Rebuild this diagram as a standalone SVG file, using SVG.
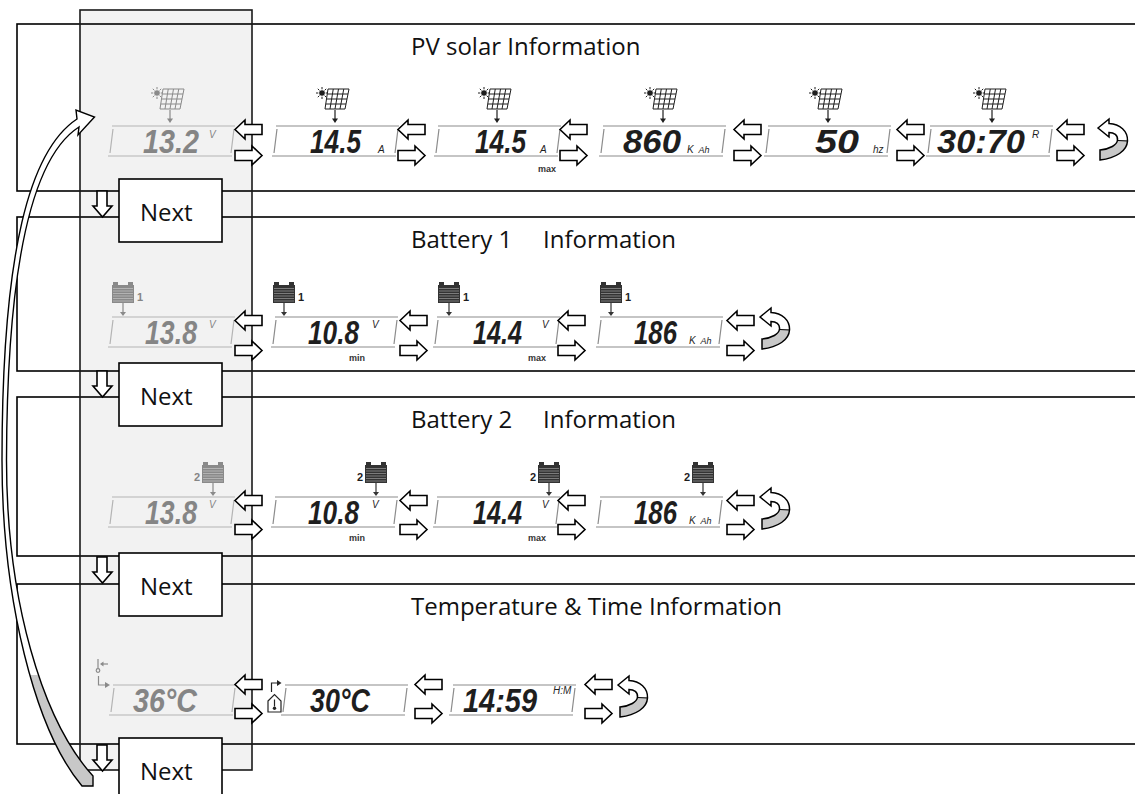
<svg xmlns="http://www.w3.org/2000/svg" width="1135" height="794" viewBox="0 0 1135 794">
<defs>
<style>
.row{fill:none;stroke:#000;stroke-width:1.6}
.colf{fill:#f2f2f2}
.colb{fill:none;stroke:#1a1a1a;stroke-width:1.6}
.title{font-family:"Open Sans","Liberation Sans",sans-serif;font-size:24px;fill:#111}
.next rect{fill:#fff;stroke:#000;stroke-width:1.6}
.next text{font-family:"Open Sans","Liberation Sans",sans-serif;font-size:24px;fill:#111}
.lcd{font-family:"Liberation Sans",Arial,sans-serif;font-style:italic;font-weight:bold;font-size:33px}
.u{font-family:"Liberation Sans",Arial,sans-serif;font-size:10px;font-style:italic}
.sub{font-family:"Liberation Sans",Arial,sans-serif;font-size:9px;font-weight:bold;text-anchor:middle;fill:#333}
.lab{font-family:"Liberation Sans",Arial,sans-serif;font-size:11px;font-weight:bold}
.gy{fill:#858585}
.dk{fill:#1e1e1e}
.harr{fill:#fff;stroke:#000;stroke-width:1.6;stroke-linejoin:miter}
</style>
<linearGradient id="curlg" x1="0" y1="0" x2="0" y2="1"><stop offset="0.52" stop-color="#fff"/><stop offset="0.52" stop-color="#c8c8c8"/></linearGradient>
<linearGradient id="bigg" gradientUnits="userSpaceOnUse" x1="0" y1="0" x2="0" y2="794"><stop offset="0.85" stop-color="#fff"/><stop offset="0.85" stop-color="#c8c8c8"/></linearGradient>
<g id="lcdf" fill="none" stroke="currentColor" stroke-width="1.2"><path d="M0,0H123M-4,30H120M1,3L-2,27M122,3L119,27"/></g>
<g id="sol" fill="none" stroke="currentColor" stroke-width="1">
<circle cx="-13" cy="5" r="2.8" fill="currentColor" stroke="none"/>
<path d="M-13,-1V1.3M-13,8.7V11M-19,5H-16.7M-9.3,5H-7.8M-15.6,2.4L-17.2,0.8M-10.4,7.6L-8.8,9.2M-15.6,7.6L-17.2,9.2M-10.4,2.4L-8.8,0.8"/>
<path d="M-7,1H14L10,21H-10Z M-1.75,1L-5,21 M3.5,1L0,21 M8.75,1L5,21 M-7.75,6H13 M-8.5,11H12 M-9.25,16H11"/>
<path d="M0,22V31" stroke-width="1.2"/>
<path d="M-3,30.5H3L0,35Z" fill="currentColor" stroke="none"/>
</g>
<g id="bat">
<rect x="1" y="0" width="5" height="3.5" fill="currentColor"/>
<rect x="16" y="0" width="5" height="3.5" fill="currentColor"/>
<rect x="0" y="3" width="22" height="18" fill="currentColor"/>
<path d="M1,6.5H21M1,9H21M1,11.5H21M1,14H21M1,16.5H21M1,19H21" stroke="#fff" stroke-opacity="0.45" stroke-width="0.8"/>
<path d="M11,21V31" stroke="currentColor" stroke-width="1.2"/>
<path d="M8,30H14L11,34Z" fill="currentColor"/>
</g>
<path id="al" class="harr" d="M0,9.5L10,0V4.5H27V14.5H10V19Z"/>
<path id="ar" class="harr" d="M27,9.5L17,0V4.5H0V14.5H17V19Z"/>
<path id="dn" class="harr" d="M4,0H14V15H19L9.5,26L0,15H4Z"/>
<g id="curl">
<path d="M0,9L11,0V4.5C22,5 30,12 29.5,22C29,32 18,39 2,41V31C12,30 19,26 19.5,21C20,16 16,13.5 11,13.5V18Z" fill="url(#curlg)" stroke="#000" stroke-width="1.5" stroke-linejoin="miter"/>
<path d="M19.5,21.5L29.5,22" stroke="#000" stroke-width="1"/>
</g>
</defs>
<rect width="1135" height="794" fill="#fff"/>
<rect class="colf" x="80" y="10" width="172" height="760"/>
<g id="rows">
<rect class="row" x="17" y="24" width="1130" height="167"/>
<rect class="row" x="17" y="217" width="1130" height="154"/>
<rect class="row" x="17" y="397" width="1130" height="159"/>
<rect class="row" x="17" y="584" width="1130" height="160"/>
</g>
<rect id="column" class="colb" x="80" y="10" width="172" height="760"/>
<g id="titles">
<text class="title" x="411" y="55">PV solar Information</text>
<text class="title" x="411" y="248">Battery 1 <tspan x="543">Information</tspan></text>
<text class="title" x="411" y="428">Battery 2 <tspan x="543">Information</tspan></text>
<text class="title" x="411" y="615">Temperature &amp; Time Information</text>
</g>
<g id="pv-row">
<g id="pv1">
<use href="#lcdf" x="112" y="126" color="#b4b4b4"/>
<use href="#sol" x="170" y="88" color="#8a8a8a"/>
<text class="lcd gy" x="143" y="153" textLength="56" lengthAdjust="spacingAndGlyphs">13.2</text>
<text class="u gy" x="209" y="138">V</text>
</g>
<g id="pv2">
<use href="#lcdf" x="276" y="126" color="#8c8c8c"/>
<use href="#sol" x="335" y="88" color="#1e1e1e"/>
<text class="lcd dk" x="310" y="153" textLength="51" lengthAdjust="spacingAndGlyphs">14.5</text>
<text class="u dk" x="378" y="153" font-size="9">A</text>
</g>
<g id="pv3">
<use href="#lcdf" x="438" y="126" color="#8c8c8c"/>
<use href="#sol" x="497" y="88" color="#1e1e1e"/>
<text class="lcd dk" x="475" y="153" textLength="51" lengthAdjust="spacingAndGlyphs">14.5</text>
<text class="u dk" x="540" y="153" font-size="9">A</text>
<text class="sub" x="547" y="172">max</text>
</g>
<g id="pv4">
<use href="#lcdf" x="603" y="126" color="#8c8c8c"/>
<use href="#sol" x="663" y="88" color="#1e1e1e"/>
<text class="lcd dk" x="623" y="153" textLength="58" lengthAdjust="spacingAndGlyphs">860</text>
<text class="u dk" x="687" y="153" font-size="11">K <tspan font-size="9" dx="2">Ah</tspan></text>
</g>
<g id="pv5">
<use href="#lcdf" x="768" y="126" color="#8c8c8c"/>
<use href="#sol" x="828" y="88" color="#1e1e1e"/>
<text class="lcd dk" x="815" y="153" textLength="44" lengthAdjust="spacingAndGlyphs">50</text>
<text class="u dk" x="873" y="153">hz</text>
</g>
<g id="pv6">
<use href="#lcdf" x="930" y="126" color="#8c8c8c"/>
<use href="#sol" x="992" y="88" color="#1e1e1e"/>
<text class="lcd dk" x="937" y="153" textLength="88" lengthAdjust="spacingAndGlyphs">30:70</text>
<text class="u dk" x="1032" y="138">R</text>
</g>
</g>
<g id="bat1-row">
<g id="b1d1">
<use href="#lcdf" x="112" y="317" color="#b4b4b4"/>
<use href="#bat" x="112" y="282" color="#8a8a8a"/>
<text class="lab gy" x="137" y="301">1</text>
<text class="lcd gy" x="145" y="344" textLength="52" lengthAdjust="spacingAndGlyphs">13.8</text>
<text class="u gy" x="209" y="328">V</text>
</g>
<g id="b1d2">
<use href="#lcdf" x="275" y="317" color="#8c8c8c"/>
<use href="#bat" x="273" y="282" color="#333"/>
<text class="lab dk" x="298" y="301">1</text>
<text class="lcd dk" x="308" y="344" textLength="51" lengthAdjust="spacingAndGlyphs">10.8</text>
<text class="u dk" x="372" y="328">V</text>
<text class="sub" x="357" y="361">min</text>
</g>
<g id="b1d3">
<use href="#lcdf" x="437" y="317" color="#8c8c8c"/>
<use href="#bat" x="438" y="282" color="#333"/>
<text class="lab dk" x="463" y="301">1</text>
<text class="lcd dk" x="473" y="344" textLength="49" lengthAdjust="spacingAndGlyphs">14.4</text>
<text class="u dk" x="542" y="328">V</text>
<text class="sub" x="537" y="361">max</text>
</g>
<g id="b1d4">
<use href="#lcdf" x="600" y="317" color="#8c8c8c"/>
<use href="#bat" x="600" y="282" color="#333"/>
<text class="lab dk" x="625" y="301">1</text>
<text class="lcd dk" x="634" y="344" textLength="43" lengthAdjust="spacingAndGlyphs">186</text>
<text class="u dk" x="689" y="344" font-size="11">K <tspan font-size="9" dx="2">Ah</tspan></text>
</g>
</g>
<g id="bat2-row">
<g id="b2d1">
<use href="#lcdf" x="112" y="497" color="#b4b4b4"/>
<use href="#bat" x="202" y="462" color="#8a8a8a"/>
<text class="lab gy" x="194" y="481">2</text>
<text class="lcd gy" x="145" y="524" textLength="52" lengthAdjust="spacingAndGlyphs">13.8</text>
<text class="u gy" x="209" y="508">V</text>
</g>
<g id="b2d2">
<use href="#lcdf" x="275" y="497" color="#8c8c8c"/>
<use href="#bat" x="365" y="462" color="#333"/>
<text class="lab dk" x="357" y="481">2</text>
<text class="lcd dk" x="308" y="524" textLength="51" lengthAdjust="spacingAndGlyphs">10.8</text>
<text class="u dk" x="372" y="508">V</text>
<text class="sub" x="357" y="541">min</text>
</g>
<g id="b2d3">
<use href="#lcdf" x="437" y="497" color="#8c8c8c"/>
<use href="#bat" x="538" y="462" color="#333"/>
<text class="lab dk" x="530" y="481">2</text>
<text class="lcd dk" x="473" y="524" textLength="49" lengthAdjust="spacingAndGlyphs">14.4</text>
<text class="u dk" x="542" y="508">V</text>
<text class="sub" x="537" y="541">max</text>
</g>
<g id="b2d4">
<use href="#lcdf" x="600" y="497" color="#8c8c8c"/>
<use href="#bat" x="692" y="462" color="#333"/>
<text class="lab dk" x="684" y="481">2</text>
<text class="lcd dk" x="634" y="524" textLength="43" lengthAdjust="spacingAndGlyphs">186</text>
<text class="u dk" x="689" y="524" font-size="11">K <tspan font-size="9" dx="2">Ah</tspan></text>
</g>
</g>
<g id="temp-row">
<g id="t1">
<use href="#lcdf" x="113" y="685" color="#b4b4b4"/>
<g fill="none" stroke="#8a8a8a" stroke-width="1.2">
<path d="M98,659V668.5"/>
<circle cx="98" cy="670.5" r="1.8"/>
<path d="M108,664H102.5"/>
<path d="M98.5,676V685H106"/>
</g>
<path d="M103.5,661.5L100,664L103.5,666.5Z" fill="#8a8a8a"/>
<path d="M105,682L110,685L105,688Z" fill="#8a8a8a"/>
<text class="lcd gy" x="133" y="712" textLength="64" lengthAdjust="spacingAndGlyphs">36°C</text>
</g>
<g id="t2">
<use href="#lcdf" x="285" y="685" color="#8c8c8c"/>
<g fill="none" stroke="#222" stroke-width="1.2">
<path d="M268,701L274.5,694.5L281,701V712H268Z" fill="#fff"/>
<path d="M274.5,699.5V706.5"/>
<path d="M271.5,692V683H278"/>
</g>
<circle cx="274.5" cy="708.3" r="1.7" fill="#222"/>
<path d="M277,680L281.5,683L277,686Z" fill="#222"/>
<text class="lcd dk" x="310" y="712" textLength="60" lengthAdjust="spacingAndGlyphs">30°C</text>
</g>
<g id="t3">
<use href="#lcdf" x="453" y="685" color="#8c8c8c"/>
<text class="lcd dk" x="463" y="712" textLength="74" lengthAdjust="spacingAndGlyphs">14:59</text>
<text class="u dk" x="553" y="694" font-size="9">H:M</text>
</g>
</g>
<g id="connectors">
<use href="#al" x="235" y="120"/><use href="#ar" x="235" y="146"/>
<use href="#al" x="398" y="120"/><use href="#ar" x="398" y="146"/>
<use href="#al" x="560" y="120"/><use href="#ar" x="560" y="146"/>
<use href="#al" x="734" y="120"/><use href="#ar" x="734" y="146"/>
<use href="#al" x="897" y="120"/><use href="#ar" x="897" y="146"/>
<use href="#al" x="1057" y="120"/><use href="#ar" x="1057" y="146"/>
<use href="#curl" x="1098" y="119"/>
<use href="#al" x="235" y="311"/><use href="#ar" x="235" y="341"/>
<use href="#al" x="400" y="311"/><use href="#ar" x="400" y="341"/>
<use href="#al" x="558" y="311"/><use href="#ar" x="558" y="341"/>
<use href="#al" x="727" y="311"/><use href="#ar" x="727" y="341"/>
<use href="#curl" x="760" y="308"/>
<use href="#al" x="235" y="491"/><use href="#ar" x="235" y="520"/>
<use href="#al" x="400" y="491"/><use href="#ar" x="400" y="520"/>
<use href="#al" x="558" y="491"/><use href="#ar" x="558" y="520"/>
<use href="#al" x="727" y="491"/><use href="#ar" x="727" y="520"/>
<use href="#curl" x="760" y="488"/>
<use href="#al" x="235" y="675"/><use href="#ar" x="235" y="704"/>
<use href="#al" x="415" y="675"/><use href="#ar" x="415" y="704"/>
<use href="#al" x="585" y="675"/><use href="#ar" x="585" y="704"/>
<use href="#curl" x="618" y="676"/>
<use href="#dn" x="93" y="191"/>
<use href="#dn" x="93" y="371"/>
<use href="#dn" x="93" y="557"/>
<use href="#dn" x="93" y="745"/>
<path id="return-arrow" d="M82,786C35,730 2,600 2,460C2,250 30,150 77,119L76,110L94.5,117L78,135L79,127C35,155 7,255 6.5,460C6.5,600 42,720 93,776L93,786Z" fill="url(#bigg)" stroke="#000" stroke-width="1.4" stroke-linejoin="miter"/>
</g>
<g id="next1" class="next"><rect x="119" y="179" width="103" height="63"/><text x="140" y="221">Next</text></g>
<g id="next2" class="next"><rect x="119" y="363" width="103" height="63"/><text x="140" y="405">Next</text></g>
<g id="next3" class="next"><rect x="119" y="553" width="103" height="63"/><text x="140" y="595">Next</text></g>
<g id="next4" class="next"><rect x="119" y="738" width="103" height="63"/><text x="140" y="780">Next</text></g>
</svg>
